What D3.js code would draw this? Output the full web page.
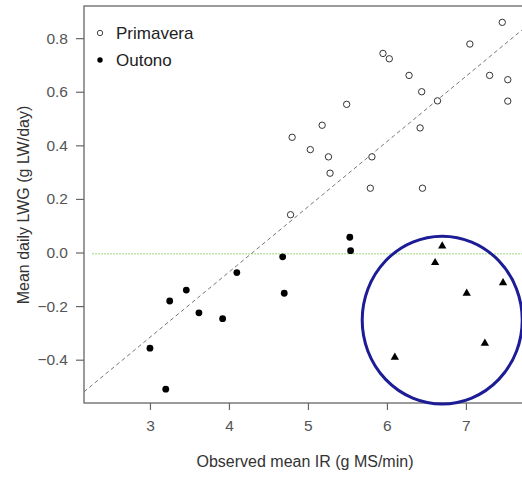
<!DOCTYPE html>
<html>
<head>
<meta charset="utf-8">
<script src="https://cdn.jsdelivr.net/npm/d3@7"></script>
<style>
    body { margin: 0; background: #fff; }
    svg { display: block; font-family: "Liberation Sans", Arial, sans-serif; }
</style>
</head>
<body>
<svg id="chart" width="522" height="477"></svg>
<script>
// Primavera (open circles)
const primaveraIR = [7.46, 7.05, 5.95, 6.03, 6.28, 7.30, 7.53, 6.44, 6.64, 7.53, 5.49,
    5.18, 4.80, 6.42, 5.03, 5.26, 5.81, 5.28, 5.79, 6.45, 4.78];
const primaveraLWG = [0.859, 0.778, 0.743, 0.723, 0.661, 0.661, 0.645, 0.600, 0.566, 0.565, 0.553,
    0.475, 0.430, 0.465, 0.384, 0.357, 0.357, 0.296, 0.240, 0.240, 0.141];

// Outono (filled circles)
const outonoIR = [4.10, 3.46, 3.25, 3.62, 3.92, 3.00, 3.20, 5.53, 5.54, 4.68, 4.70];
const outonoLWG = [-0.075, -0.140, -0.181, -0.225, -0.247, -0.357, -0.510, 0.057, 0.007, -0.016, -0.152];

// Outono points marked with triangles
const triIR = [6.70, 6.61, 7.47, 7.01, 7.24, 6.10];
const triLWG = [0.024, -0.038, -0.113, -0.152, -0.339, -0.391];

// regression line (dashed) and reference line (dotted)
const fitSlope = 0.2435;
const fitIntercept = -1.047;
const zeroLine = -0.005;

// highlight ellipse: centre and radii in data units
const ringCenter = [6.70, -0.252];
const ringRadius = [1.013, 0.313];

const xTicks = [3, 4, 5, 6, 7];
const yTicks = [-0.4, -0.2, 0.0, 0.2, 0.4, 0.6, 0.8];
const legendLabels = ['Primavera', 'Outono'];

const svg = d3.select('#chart');
const plotLeft = 84, plotTop = 6, plotRight = 522, plotBottom = 403;

const x = d3.scaleLinear().domain([2.165, 7.71]).range([plotLeft, plotRight]);
const y = d3.scaleLinear().domain([-0.5616, 0.92]).range([plotBottom, plotTop]);

const axisColor = '#666';
const textColor = '#555';

// frame
svg.append('rect')
    .attr('x', plotLeft).attr('y', plotTop)
    .attr('width', 460).attr('height', plotBottom - plotTop)
    .attr('fill', 'none').attr('stroke', axisColor).attr('stroke-width', 1.3);

// axes
const xAxis = svg.append('g')
    .attr('transform', `translate(0,${plotBottom})`)
    .call(d3.axisBottom(x).tickValues(xTicks).tickSize(7).tickPadding(10).tickFormat(d3.format('d')));
const yAxis = svg.append('g')
    .attr('transform', `translate(${plotLeft},0)`)
    .call(d3.axisLeft(y).tickValues(yTicks).tickSize(8).tickPadding(8).tickFormat(d3.format('.1f')));

[xAxis, yAxis].forEach(ax => {
    ax.select('.domain').remove();
    ax.selectAll('line').attr('stroke', axisColor).attr('stroke-width', 1.2);
    ax.selectAll('text').attr('fill', textColor).style('font-size', '15.5px');
});

// axis titles
svg.append('text')
    .attr('x', 305).attr('y', 467)
    .attr('text-anchor', 'middle')
    .attr('fill', '#333').style('font-size', '16px')
    .text('Observed mean IR (g MS/min)');

svg.append('text')
    .attr('transform', `translate(29,205) rotate(-90)`)
    .attr('text-anchor', 'middle')
    .attr('fill', '#333').style('font-size', '16px')
    .text('Mean daily LWG (g LW/day)');

// dotted green line
svg.append('line')
    .attr('x1', x(2.27)).attr('x2', plotRight)
    .attr('y1', y(zeroLine)).attr('y2', y(zeroLine))
    .attr('stroke', '#7ccc4c').attr('stroke-width', 1)
    .attr('stroke-dasharray', '1.5,1.5');

// dashed regression line
const xs = x.domain();
svg.append('line')
    .attr('x1', x(xs[0])).attr('y1', y(fitIntercept + fitSlope * xs[0]))
    .attr('x2', x(xs[1])).attr('y2', y(fitIntercept + fitSlope * xs[1]))
    .attr('stroke', '#777').attr('stroke-width', 1)
    .attr('stroke-dasharray', '4,3');

// open circles
svg.append('g').selectAll('circle')
    .data(primaveraIR)
    .enter().append('circle')
    .attr('cx', d => x(d))
    .attr('cy', (d, i) => y(primaveraLWG[i]))
    .attr('r', 3.2)
    .attr('fill', '#fff').attr('stroke', '#333').attr('stroke-width', 1);

// filled circles
svg.append('g').selectAll('circle')
    .data(outonoIR)
    .enter().append('circle')
    .attr('cx', d => x(d))
    .attr('cy', (d, i) => y(outonoLWG[i]))
    .attr('r', 3.4)
    .attr('fill', '#000');

// triangles
const tri = d3.symbol().type(d3.symbolTriangle).size(30);
svg.append('g').selectAll('path')
    .data(triIR)
    .enter().append('path')
    .attr('d', tri)
    .attr('transform', (d, i) => `translate(${x(d)},${y(triLWG[i])})`)
    .attr('fill', '#000');

// blue ellipse
svg.append('ellipse')
    .attr('cx', x(ringCenter[0])).attr('cy', y(ringCenter[1]))
    .attr('rx', x(ringCenter[0] + ringRadius[0]) - x(ringCenter[0]))
    .attr('ry', y(ringCenter[1]) - y(ringCenter[1] + ringRadius[1]))
    .attr('fill', 'none').attr('stroke', '#1c1c96').attr('stroke-width', 3);

// legend
const legend = svg.selectAll('.legend')
    .data(legendLabels)
    .enter().append('g')
    .attr('class', 'legend')
    .attr('transform', (d, i) => `translate(100,${33 + i * 27})`);

legend.append('circle')
    .attr('r', 2.7)
    .attr('fill', (d, i) => i === 0 ? '#fff' : '#000')
    .attr('stroke', (d, i) => i === 0 ? '#444' : 'none')
    .attr('stroke-width', 1);

legend.append('text')
    .attr('x', 16)
    .attr('dy', '0.35em')
    .attr('fill', '#222')
    .style('font-size', '17px')
    .text(d => d);
</script>
</body>
</html>
